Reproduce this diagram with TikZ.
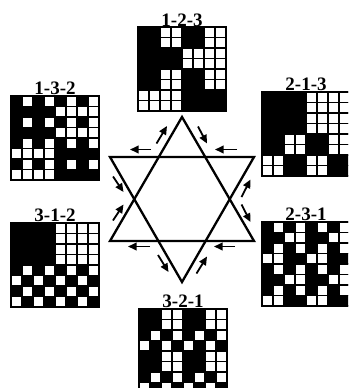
\documentclass[tikz,border=0pt]{standalone}
\usepackage{fontspec}
\setmainfont{Liberation Serif}
\usetikzlibrary{arrows.meta}
\def\cellW{11.0}
\def\cellH{10.5}
\newcommand\drawweave[4]{% x y a b
  \foreach \r in {0,...,7}{
    \foreach \c in {0,...,7}{
      \pgfmathtruncatemacro\rb{mod(floor(\r/(2^(3-#4))),2)}
      \pgfmathtruncatemacro\cb{mod(floor(\c/(2^(3-#4))),2)}
      \pgfmathtruncatemacro\ra{mod(floor(\r/(2^(3-#3))),2)}
      \pgfmathtruncatemacro\ca{mod(floor(\c/(2^(3-#3))),2)}
      \pgfmathtruncatemacro\blk{(1-\rb)*(1-\cb)+\rb*(1-abs(\ca-\ra))}
      \ifnum\blk=1
        \path[blackcell] (#1+\c*\cellW, #2+\r*\cellH) rectangle ++(\cellW,\cellH);
      \else
        \path[whitecell] (#1+\c*\cellW, #2+\r*\cellH) rectangle ++(\cellW,\cellH);
      \fi
    }
  }
  \draw[line width=1.3pt] (#1,#2) rectangle ++(8*\cellW,8*\cellH);
}
\begin{document}
\begin{tikzpicture}[x=1pt,y=-1pt,
  starline/.style={line width=2.3pt, line join=miter},
  flowarrow/.style={line width=1.8pt, -{Triangle[length=8.5pt,width=7.5pt]}},
  gridlabel/.style={font=\fontsize{19}{19}\selectfont\bfseries, inner sep=0pt, anchor=base},
  blackcell/.style={fill=black, draw=black, line width=1.1pt},
  whitecell/.style={fill=white, draw=black, line width=1.1pt}]
\useasboundingbox (0,0) rectangle (348,388);
\clip (0,0) rectangle (348,388);
\fill[white] (0,0) rectangle (348,388);

% grids
\drawweave{138}{27}{1}{2}
\drawweave{11}{96}{1}{3}
\drawweave{262}{92}{2}{1}
\drawweave{11}{223}{3}{1}
\drawweave{262}{222}{2}{3}
\drawweave{139}{309}{3}{2}

% labels
\node[gridlabel] (l123) at (182,26) {1-2-3};
\node[gridlabel] (l132) at (55,94) {1-3-2};
\node[gridlabel] (l213) at (306,90.5) {2-1-3};
\node[gridlabel] (l312) at (55,221.5) {3-1-2};
\node[gridlabel] (l231) at (306,220.5) {2-3-1};
\node[gridlabel] (l321) at (183,307.5) {3-2-1};

% star of David
\coordinate (uA) at (182,117);
\coordinate (uL) at (110,241);
\coordinate (uR) at (254,241);
\coordinate (dA) at (182,282);
\coordinate (dL) at (110,157);
\coordinate (dR) at (254,157);
\draw[starline] (uA) -- (uL) -- (uR) -- cycle;
\draw[starline] (dA) -- (dL) -- (dR) -- cycle;

% arrows
\coordinate (a1s) at (156.5,143.5); \coordinate (a1e) at (167,126);
\coordinate (a2s) at (198,126.5);   \coordinate (a2e) at (207,143.5);
\coordinate (a3s) at (151,149.5);   \coordinate (a3e) at (130,149.5);
\coordinate (a4s) at (237,149.5);   \coordinate (a4e) at (215,149.5);
\coordinate (a5s) at (113,176.5);   \coordinate (a5e) at (123.5,192);
\coordinate (a6s) at (113,220.5);   \coordinate (a6e) at (123.5,204.5);
\coordinate (a7s) at (241.5,197);   \coordinate (a7e) at (250.5,179.5);
\coordinate (a8s) at (241.5,204.5); \coordinate (a8e) at (250.5,222);
\coordinate (a9s) at (150,246.5);   \coordinate (a9e) at (128,246.5);
\coordinate (a10s) at (235,246.5);  \coordinate (a10e) at (214,246.5);
\coordinate (a11s) at (158,255);    \coordinate (a11e) at (168.5,272);
\coordinate (a12s) at (196.5,273.5);\coordinate (a12e) at (207,256.5);
\foreach \i in {1,...,12}{
  \draw[flowarrow] (a\i s) -- (a\i e);
}
\end{tikzpicture}
\end{document}
